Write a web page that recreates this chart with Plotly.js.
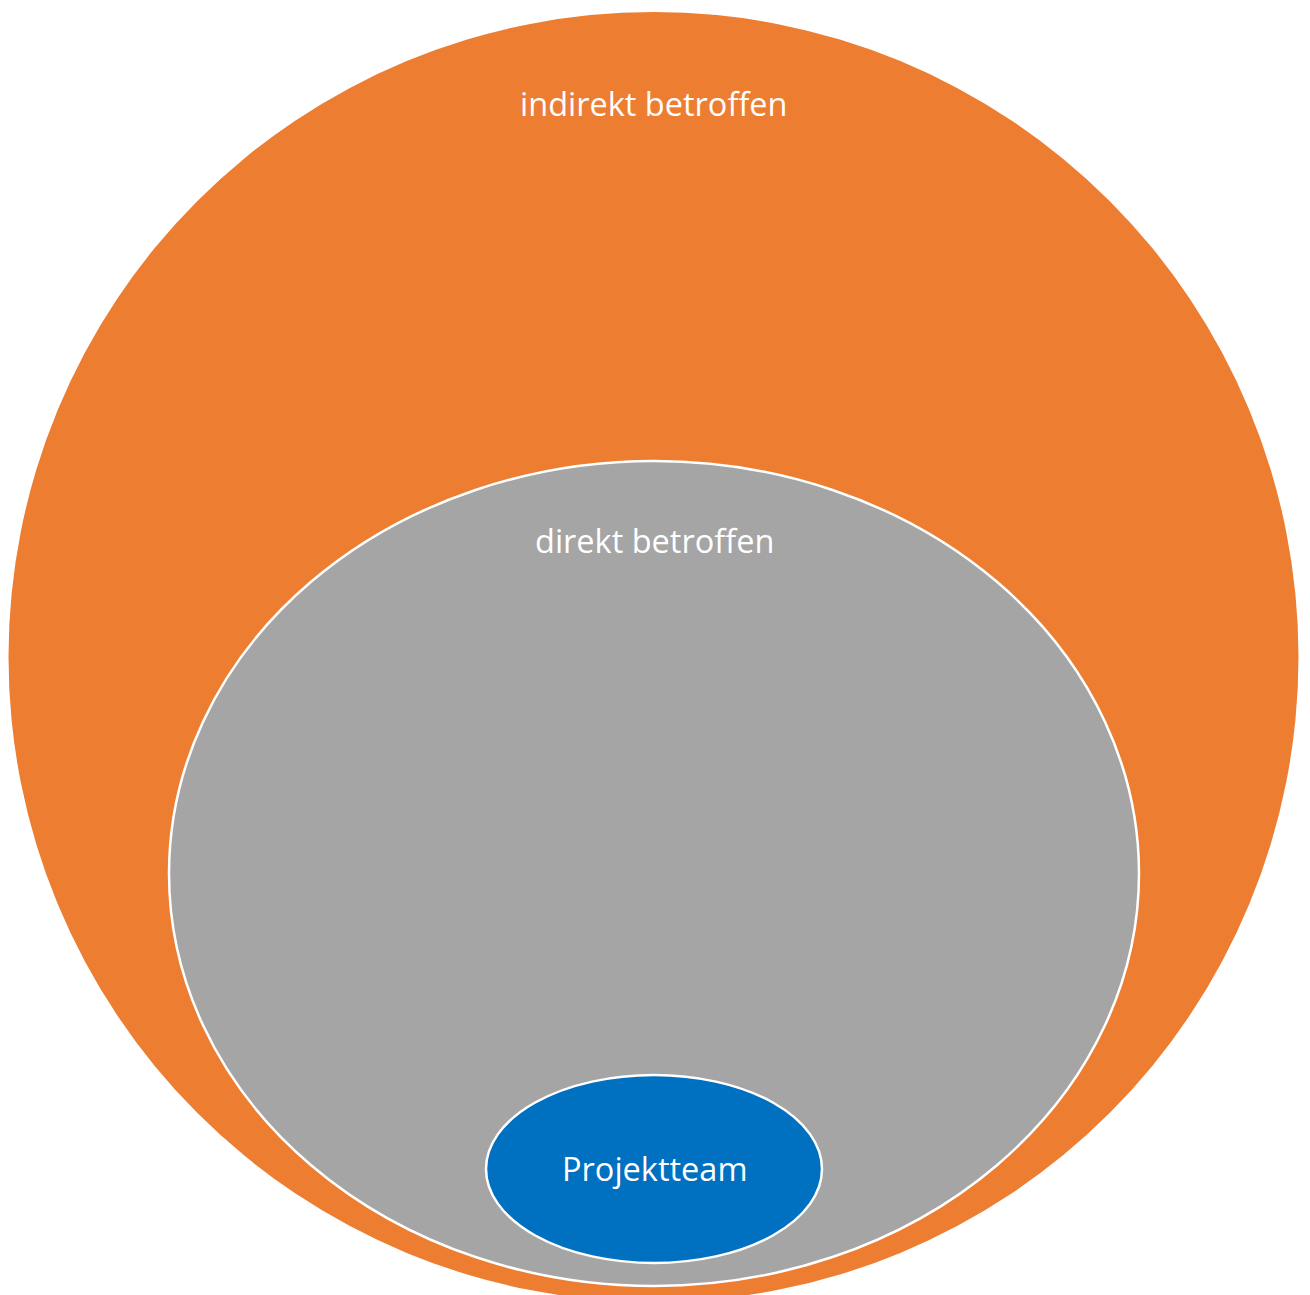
<!DOCTYPE html>
<html>
<head>
<meta charset="utf-8">
<script src="https://cdn.plot.ly/plotly-3.0.1.min.js"></script>
<style>html,body{margin:0;padding:0;background:#fff;}#chart{width:1310px;height:1295px;}</style>
</head>
<body>
<div id="chart"></div>
<script>
// Data: nested stakeholder groups (outer to inner)
const groups = ["indirekt betroffen", "direkt betroffen", "Projektteam"];
const centerX = [653.5, 654, 654];
const centerY = [657, 873.5, 1169];
const radiusX = [645, 485, 168];
const radiusY = [645, 412.5, 94];

// Styling / layout (not data)
const fills = ["#ED7D31", "#A5A5A5", "#0070C0"];
const borders = ["#ED7D31", "#FFFFFF", "#FFFFFF"];
const labelY = [103, 540, 1168];

const shapes = groups.map((g, i) => ({
  type: "circle", xref: "x", yref: "y",
  x0: centerX[i] - radiusX[i], x1: centerX[i] + radiusX[i],
  y0: centerY[i] - radiusY[i], y1: centerY[i] + radiusY[i],
  fillcolor: fills[i],
  line: {color: borders[i], width: i === 0 ? 0 : 2.5},
  layer: "below"
}));

const annotations = groups.map((g, i) => ({
  x: centerX[i], y: labelY[i], xref: "x", yref: "y",
  text: g, showarrow: false, xanchor: "center", yanchor: "middle",
  font: {family: "'Open Sans', sans-serif", size: 32.5, color: "#FFFFFF"}
}));

const layout = {
  width: 1310, height: 1295,
  margin: {l: 0, r: 0, t: 0, b: 0},
  paper_bgcolor: "#FFFFFF", plot_bgcolor: "#FFFFFF",
  xaxis: {range: [0, 1310], visible: false, fixedrange: true},
  yaxis: {range: [1295, 0], visible: false, fixedrange: true},
  shapes: shapes, annotations: annotations, showlegend: false
};

Plotly.newPlot("chart", [{x: [], y: [], type: "scatter", mode: "markers", hoverinfo: "skip"}], layout, {staticPlot: true, displayModeBar: false});
</script>
</body>
</html>
